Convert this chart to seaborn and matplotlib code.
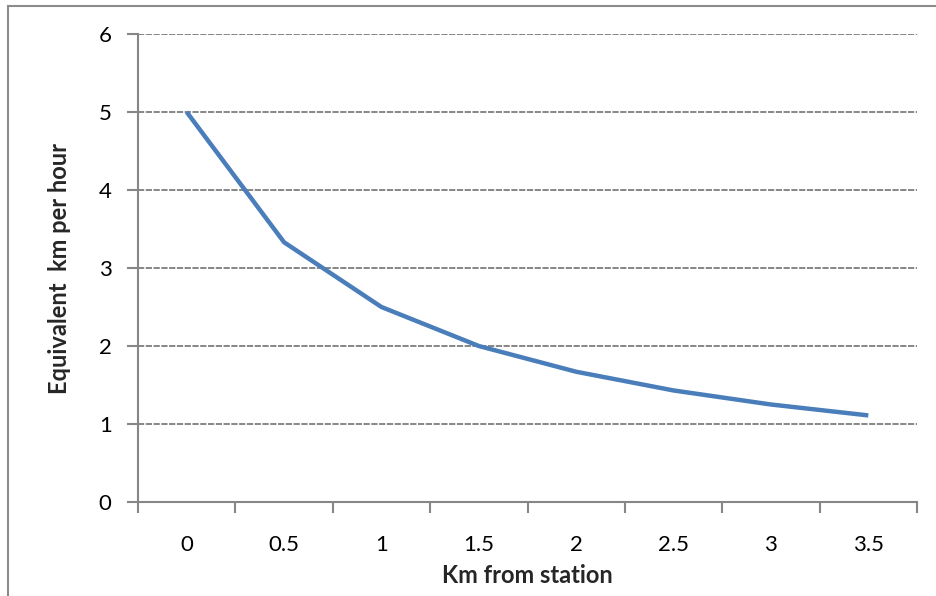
import matplotlib
matplotlib.use("Agg")
import matplotlib.pyplot as plt
import seaborn as sns
import pandas as pd
from matplotlib.patches import Rectangle
from matplotlib.ticker import FixedLocator

categories = ["0", "0.5", "1", "1.5", "2", "2.5", "3", "3.5"]
speeds = [5.0, 3.33, 2.5, 2.0, 1.67, 1.43, 1.25, 1.11]
y_ticks = [0, 1, 2, 3, 4, 5, 6]

sns.set_style("white")
plt.rcParams['font.family'] = ['Lato', 'DejaVu Sans']

df = pd.DataFrame({"pos": range(len(categories)), "speed": speeds})

fig = plt.figure(figsize=(9.36, 5.96), dpi=100)
ax = fig.add_axes([138/936, 1 - 502/596, (917 - 138)/936, (502 - 34)/596])

grid_c = "#868686"
for y in y_ticks[1:]:
    ax.axhline(y, color=grid_c, lw=1.4, ls=(0, (3.2, 0.8)), zorder=1)

sns.lineplot(data=df, x="pos", y="speed", ax=ax, color="#4A7EBB", lw=3.2,
             solid_capstyle="butt", zorder=3)

ax.set_xlim(-0.5, len(categories) - 0.5)
ax.set_ylim(0, 6)
ax.set_xticks(range(len(categories)))
ax.set_xticklabels(categories)
ax.xaxis.set_minor_locator(FixedLocator([i - 0.5 for i in range(len(categories) + 1)]))
ax.tick_params(axis="x", which="major", length=0, pad=24, labelsize=16, labelcolor="#000000")
ax.tick_params(axis="x", which="minor", length=8, width=1.5, color=grid_c, direction="out", bottom=True)
ax.set_yticks(y_ticks)
ax.tick_params(axis="y", length=8, width=1.5, color=grid_c, direction="out", left=True, pad=11,
               labelsize=16, labelcolor="#000000")

for s in ["top", "right"]:
    ax.spines[s].set_visible(False)
for s in ["left", "bottom"]:
    ax.spines[s].set_color(grid_c)
    ax.spines[s].set_linewidth(1.5)

ax.set_xlabel("Km from station", fontsize=17, fontweight="bold", labelpad=6)
ax.set_ylabel("Equivalent  km per hour", fontsize=17, fontweight="bold", labelpad=20)

fig.patches.append(Rectangle((8/936, -0.1), 1.2, 1 - 6/596 + 0.1, transform=fig.transFigure,
                             fill=False, edgecolor="#8C8C8C", lw=1.5, zorder=0))

fig.savefig("out.png", dpi=100)
